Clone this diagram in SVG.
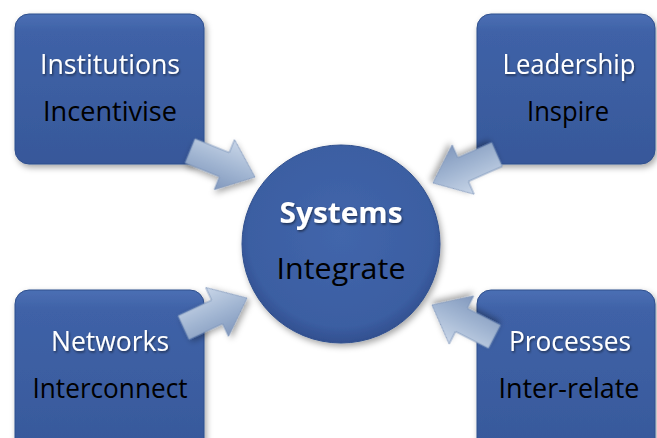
<svg xmlns="http://www.w3.org/2000/svg" width="657" height="438" viewBox="0 0 657 438">
  <defs>
    <linearGradient id="boxGrad" x1="0" y1="0" x2="0" y2="1">
      <stop offset="0" stop-color="#4b6fb4"/>
      <stop offset="0.12" stop-color="#3f62a7"/>
      <stop offset="1" stop-color="#37589a"/>
    </linearGradient>
    <radialGradient id="circGrad" cx="0.5" cy="0.45" r="0.55">
      <stop offset="0" stop-color="#4266ab"/>
      <stop offset="0.85" stop-color="#3b5ea2"/>
      <stop offset="1" stop-color="#324f8f"/>
    </radialGradient>
    <linearGradient id="arrGrad" x1="0" y1="0" x2="0" y2="1">
      <stop offset="0" stop-color="#c9d6e8"/>
      <stop offset="0.5" stop-color="#a3b7d3"/>
      <stop offset="1" stop-color="#8198bd"/>
    </linearGradient>
    <filter id="shadow" x="-10%" y="-10%" width="125%" height="125%">
      <feDropShadow dx="2" dy="3" stdDeviation="3" flood-color="#000" flood-opacity="0.35"/>
    </filter>
    <filter id="tshadow" x="-5%" y="-20%" width="115%" height="150%">
      <feDropShadow dx="1" dy="1.5" stdDeviation="1" flood-color="#000" flood-opacity="0.5"/>
    </filter>
    <path id="arrow" d="M0,0 L-33,-27 L-33,-13 L-70,-13 L-70,13 L-33,13 L-33,27 Z"/>
  </defs>
  <style>
    .box { fill: url(#boxGrad); stroke: #2f4f8d; stroke-width: 1; filter: url(#shadow); }
    .circ { fill: url(#circGrad); stroke: #2f4f8d; stroke-width: 1; filter: url(#shadow); }
    .arr { fill: url(#arrGrad); stroke: #7a92b8; stroke-width: 0.8; filter: url(#shadow); }
    .t1 { font-family: "Open Sans", "Liberation Sans", sans-serif; font-size: 27px; fill: #ffffff; text-anchor: middle; filter: url(#tshadow); }
    .t2 { font-family: "Open Sans", "Liberation Sans", sans-serif; font-size: 27px; fill: #000000; text-anchor: middle; }
    .tb { font-family: "Open Sans", "Liberation Sans", sans-serif; font-size: 28px; font-weight: bold; fill: #ffffff; text-anchor: middle; filter: url(#tshadow); }
    .tc { font-family: "Open Sans", "Liberation Sans", sans-serif; font-size: 30px; fill: #000000; text-anchor: middle; }
  </style>
  <rect width="657" height="438" fill="#ffffff"/>

  <g id="institutions">
    <rect class="box" x="15" y="14" width="189" height="150" rx="14"/>
    <text class="t1" x="110" y="74" textLength="140" lengthAdjust="spacingAndGlyphs">Institutions</text>
    <text class="t2" x="110" y="121" textLength="134" lengthAdjust="spacingAndGlyphs">Incentivise</text>
  </g>
  <g id="leadership">
    <rect class="box" x="477" y="14" width="178" height="150" rx="14"/>
    <text class="t1" x="569" y="74" textLength="133" lengthAdjust="spacingAndGlyphs">Leadership</text>
    <text class="t2" x="568" y="121" textLength="82" lengthAdjust="spacingAndGlyphs">Inspire</text>
  </g>
  <g id="networks">
    <rect class="box" x="15" y="290" width="189" height="170" rx="14"/>
    <text class="t1" x="110" y="351" textLength="118" lengthAdjust="spacingAndGlyphs">Networks</text>
    <text class="t2" x="110" y="398" textLength="155" lengthAdjust="spacingAndGlyphs">Interconnect</text>
  </g>
  <g id="processes">
    <rect class="box" x="477" y="290" width="178" height="170" rx="14"/>
    <text class="t1" x="570" y="351" textLength="122" lengthAdjust="spacingAndGlyphs">Processes</text>
    <text class="t2" x="569" y="398" textLength="141" lengthAdjust="spacingAndGlyphs">Inter-relate</text>
  </g>
  <g id="systems">
    <circle class="circ" cx="341" cy="244" r="99"/>
    <text class="tb" x="341" y="223" textLength="123" lengthAdjust="spacingAndGlyphs">Systems</text>
    <text class="tc" x="341" y="279" textLength="129" lengthAdjust="spacingAndGlyphs">Integrate</text>
  </g>

  <g id="connectors">
    <use class="arr" href="#arrow" transform="translate(255,177) rotate(22)"/>
    <use class="arr" href="#arrow" transform="translate(433,183) rotate(156)"/>
    <use class="arr" href="#arrow" transform="translate(247,298) rotate(-25)"/>
    <use class="arr" href="#arrow" transform="translate(432,305) rotate(207)"/>
  </g>
</svg>
